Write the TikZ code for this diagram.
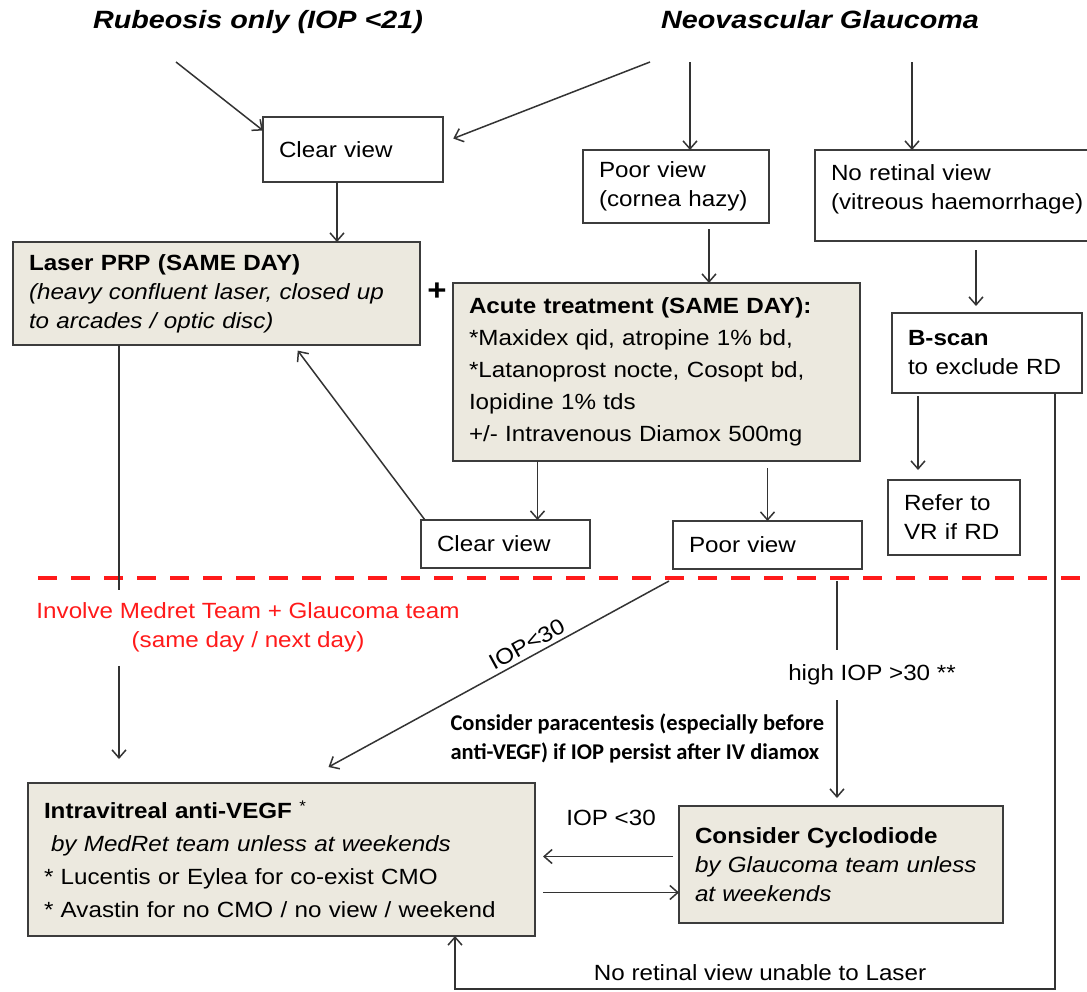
\documentclass[tikz,border=0pt]{standalone}
\usepackage{fontspec}
\setmainfont[FakeStretch=1.1]{Liberation Sans}
\newfontfamily\headfont[FakeStretch=1.15]{Liberation Sans}
\newfontfamily\notefont{Carlito}
\usetikzlibrary{arrows.meta}
\definecolor{boxfill}{HTML}{ECE9DF}
\definecolor{boxline}{HTML}{3C3C3C}
\definecolor{arrowgray}{HTML}{333333}
\definecolor{alertred}{HTML}{FF1A1A}

\begin{document}
\begin{tikzpicture}
  [x=1pt,y=-1pt,
   plain/.style={rectangle,draw=boxline,line width=1.6pt,fill=white,anchor=north west,
                 align=left,inner xsep=16pt,inner ysep=0pt,outer sep=0pt},
   shaded/.style={plain,fill=boxfill},
   heading/.style={font=\headfont\fontsize{25pt}{30pt}\selectfont\bfseries\itshape},
   arr/.style={draw=arrowgray,line width=1.5pt,-{Straight Barb[length=8pt,width=14pt]}},
   link/.style={draw=arrowgray,line width=1.5pt},
   divider/.style={draw=alertred,line width=3.5pt,dash pattern=on 19pt off 14pt}]
  \fontsize{22pt}{29pt}\selectfont
  \useasboundingbox[fill=white] (0,0) rectangle (1087,991);
  \node[heading] (rub) at (258,22) {Rubeosis only (IOP <21)};
  \node[heading] (nvg) at (820,20) {Neovascular Glaucoma};
  \node[plain,minimum height=65pt,text width=148pt] (clearA) at (263,117) {Clear view};
  \node[plain,minimum height=73pt,text width=154pt] (poorA) at (583,150) {Poor view\\(cornea hazy)};
  \node[plain,minimum height=91pt,text width=268pt] (noret) at (815,150) {No retinal view\\(vitreous haemorrhage)\\[-12pt]\mbox{}};
  \node[shaded,minimum height=103pt,text width=375pt] (laser) at (13,242)
    {\textbf{Laser PRP (SAME DAY)}\\\textit{(heavy confluent laser, closed up}\\\textit{to arcades / optic disc)}};
  \node[font=\fontsize{30pt}{30pt}\selectfont\bfseries] (plus) at (437,292) {+};
  \node[shaded,minimum height=178pt,text width=375pt,font=\fontsize{22pt}{32pt}\selectfont] (acute) at (453,283)
    {\textbf{Acute treatment (SAME DAY):}\\{*}Maxidex qid, atropine 1\% bd,\\{*}Latanoprost nocte, Cosopt bd,\\Iopidine 1\% tds\\+/- Intravenous Diamox 500mg};
  \node[plain,minimum height=80pt,text width=158pt] (bscan) at (892,313) {\textbf{B-scan}\\to exclude RD};
  \node[plain,minimum height=75pt,text width=100pt] (refer) at (888,480) {Refer to\\VR if RD};
  \node[plain,minimum height=48pt,text width=137pt] (clearB) at (421,520) {Clear view};
  \node[plain,minimum height=48pt,text width=157pt] (poorB) at (673,521) {Poor view};
  \node[text=alertred,align=center,inner ysep=9pt] (medret) at (248,627)
    {Involve Medret Team + Glaucoma team\\(same day / next day)};
  \node[inner ysep=15pt] (highiop) at (872,675) {high IOP >30 **};
  \node[font=\notefont\fontsize{22.5pt}{29pt}\selectfont\bfseries,anchor=west,align=left] (para) at (443,738)
    {Consider paracentesis (especially before\\anti-VEGF) if IOP persist after IV diamox};
  \node[shaded,minimum height=153pt,text width=475pt,font=\fontsize{22pt}{33pt}\selectfont] (intra) at (28,783)
    {\textbf{Intravitreal anti-VEGF} \textsuperscript{*}\\\hspace*{7pt}\textit{by MedRet team unless at weekends}\\{*} Lucentis or Eylea for co-exist CMO\\{*} Avastin for no CMO / no view / weekend};
  \node[shaded,minimum height=117pt,text width=292pt] (cyclo) at (679,806)
    {\textbf{Consider Cyclodiode}\\\textit{by Glaucoma team unless}\\\textit{at weekends}};
  \node (ioplt) at (611,818) {IOP <30};
  \node (noview) at (760,973) {No retinal view unable to Laser};
  % free ends
  \coordinate (r1) at (176,62);
  \coordinate (n1) at (650,62);
  \coordinate (n2) at (690,62);
  \coordinate (n3) at (912,62);
  \coordinate (drop) at (119,590);
  \coordinate (highx) at (837,0);
  \coordinate (edgeR) at (1055,989);
  \coordinate (edgeL) at (455,989);
  \draw[divider] (38,578) -- (1087,578);
  \draw[arr] (r1) to ([yshift=19pt]clearA.west);
  \draw[arr,shorten >=11pt] (n1) to ([yshift=7pt]clearA.east);
  \draw[arr] (n2) to (n2 |- poorA.north);
  \draw[arr] (n3) to (n3 |- noret.north);
  \draw[arr] ([xshift=-16pt]clearA.south) to ([xshift=-16pt]clearA.south |- laser.north);
  \draw[arr,shorten <=6pt] ([xshift=33pt]poorA.south) to ([xshift=33pt]poorA.south |- acute.north);
  \draw[arr,shorten <=9pt,shorten >=7pt] ([xshift=11pt]noret.south) to ([xshift=11pt]noret.south |- bscan.north);
  \draw[arr,shorten <=3pt,shorten >=10pt] ([xshift=-69pt]bscan.south) to ([xshift=-69pt]bscan.south |- refer.north);
  \draw[arr] ([xshift=-119pt]acute.south) to ([xshift=-119pt]acute.south |- clearB.north);
  \draw[arr,shorten <=7pt] ([xshift=111pt]acute.south) to ([xshift=111pt]acute.south |- poorB.north);
  \draw[arr,shorten >=7pt] ([xshift=4pt]clearB.north west) to ([xshift=77pt]laser.south);
  \draw[link] (drop |- laser.south) to (drop);
  \draw[arr,shorten <=5pt,shorten >=24pt] (drop |- medret.south) to (drop |- intra.north);
  \draw[arr] ([xshift=-4pt,yshift=-12pt]poorB.south west) to
    node[sloped,above,pos=0.4,inner sep=4pt] (iopdiag) {IOP<30} ([xshift=47pt,yshift=16pt]intra.north);
  \draw[link,shorten <=12pt] (highx |- poorB.south) to (highx |- highiop.north);
  \draw[arr,shorten >=8pt] (highx |- highiop.south) to (highx |- cyclo.north);
  \draw[arr,shorten <=6pt,shorten >=8pt] ([yshift=8pt]cyclo.west) to ([yshift=8pt]cyclo.west -| intra.east);
  \draw[arr,shorten <=8pt] ([yshift=-33pt]intra.east) to ([yshift=-33pt]intra.east -| cyclo.west);
  \draw[arr] (edgeR |- bscan.south) -- (edgeR) -- (edgeL) -- (edgeL |- intra.south);
\end{tikzpicture}
\end{document}
